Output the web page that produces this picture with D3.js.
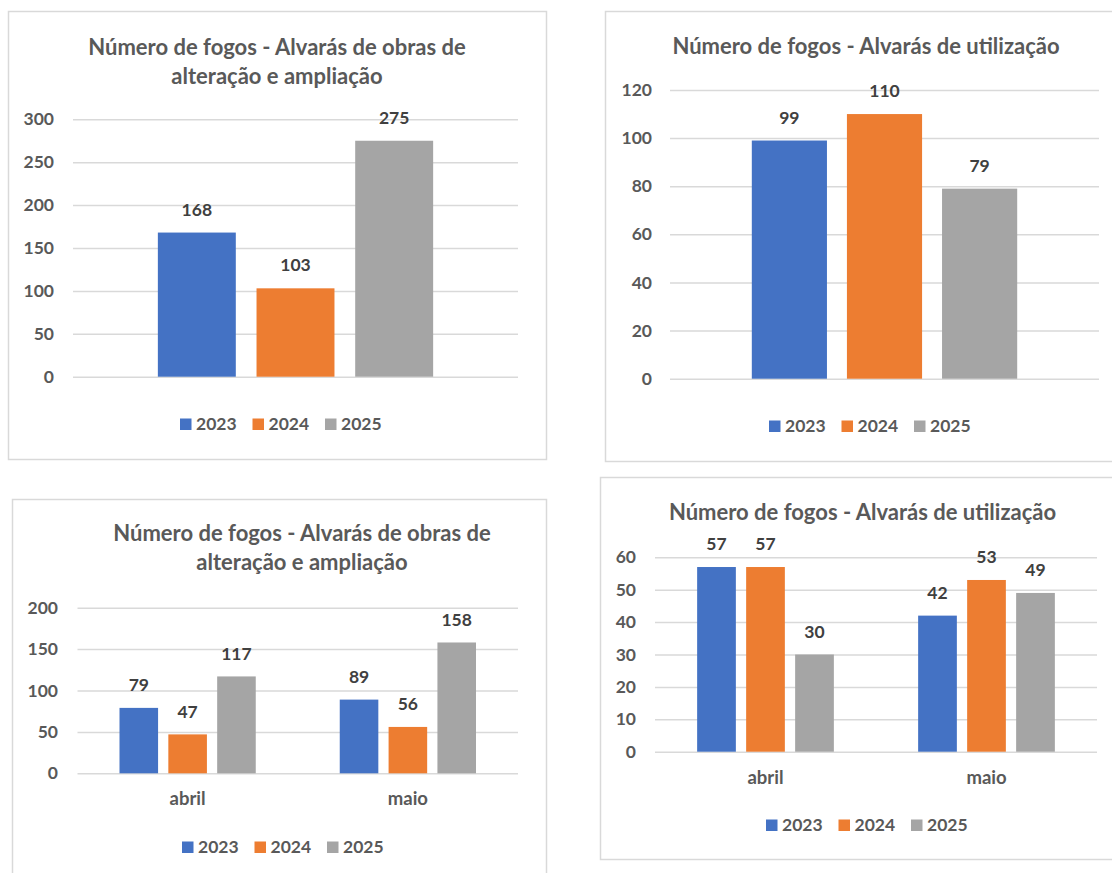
<!DOCTYPE html>
<html>
<head>
<meta charset="utf-8">
<script src="https://cdn.jsdelivr.net/npm/d3@7"></script>
<style>
  html, body { margin: 0; padding: 0; background: #fff; }
  svg { display: block; font-family: Lato, "Open Sans", sans-serif; }
</style>
</head>
<body>
<div id="chart"></div>
<script>
// ── Data ──────────────────────────────────────────────────────────────────
const years  = ["2023", "2024", "2025"];
const months = ["abril", "maio"];

const obrasTotal = [168, 103, 275];
const utilTotal  = [99, 110, 79];

const obrasAbril = [79, 47, 117];
const obrasMaio  = [89, 56, 158];
const utilAbril  = [57, 57, 30];
const utilMaio   = [42, 53, 49];

const ticksObrasTotal = [0, 50, 100, 150, 200, 250, 300];
const ticksUtilTotal  = [0, 20, 40, 60, 80, 100, 120];
const ticksObrasMes   = [0, 50, 100, 150, 200];
const ticksUtilMes    = [0, 10, 20, 30, 40, 50, 60];

const titleObras = ["Número de fogos - Alvarás de obras de", "alteração e ampliação"];
const titleUtil  = ["Número de fogos - Alvarás de utilização"];

const PALETTE = { "2023": "#4472C4", "2024": "#ED7D31", "2025": "#A5A5A5" };

// ── Helpers ───────────────────────────────────────────────────────────────
const TXT   = "#595959";
const LABEL = "#404040";
const GRID  = "#D9D9D9";
const NUM_SIZE = 17.5;

const svg = d3.select("#chart").append("svg")
  .attr("width", 1112)
  .attr("height", 873);

function panel(o) {
  const g = svg.append("g");

  // frame
  g.append("rect")
    .attr("x", o.box[0] + 0.5).attr("y", o.box[1] + 0.5)
    .attr("width", o.box[2]).attr("height", o.box[3])
    .attr("fill", "#fff").attr("stroke", GRID).attr("stroke-width", 1.5);

  // title
  o.title.forEach((line, i) => {
    g.append("text")
      .attr("x", o.titleX).attr("y", o.titleY + i * 29)
      .attr("dy", "0.35em")
      .attr("text-anchor", "middle")
      .attr("font-size", 22).attr("font-weight", 700)
      .attr("fill", TXT)
      .text(line);
  });

  // scales
  const y = d3.scaleLinear()
    .domain([0, d3.max(o.ticks)])
    .range(o.yRange);

  const x0 = d3.scaleBand()
    .domain(o.cats)
    .range(o.xRange)
    .padding(0);

  const x1 = d3.scaleBand()
    .domain(years)
    .range([0, x0.bandwidth()])
    .paddingInner(0.21)
    .paddingOuter(0.86);

  // grid
  g.append("g")
    .attr("transform", `translate(${o.xRange[0]},0)`)
    .call(d3.axisLeft(y).tickValues(o.ticks)
      .tickSize(-(o.xRange[1] - o.xRange[0])).tickFormat(""))
    .call(a => a.select(".domain").remove())
    .call(a => a.selectAll("line").attr("stroke", GRID).attr("stroke-width", 1.5));

  // y tick labels
  g.append("g")
    .attr("transform", `translate(${o.labelX},0)`)
    .call(d3.axisLeft(y).tickValues(o.ticks).tickSize(0).tickPadding(0))
    .call(a => a.select(".domain").remove())
    .call(a => a.selectAll("text")
      .attr("font-family", "Lato, sans-serif")
      .attr("font-size", NUM_SIZE).attr("font-weight", 700)
      .attr("fill", TXT));

  // bars + value labels
  const rows = o.cats.map((c, i) => ({ cat: c, vals: o.values[i] }));
  rows.forEach(r => {
    const gg = g.append("g").attr("transform", `translate(${x0(r.cat)},0)`);
    years.forEach((yr, j) => {
      const v = r.vals[j];
      gg.append("rect")
        .attr("x", x1(yr)).attr("width", x1.bandwidth())
        .attr("y", y(v)).attr("height", y(0) - y(v))
        .attr("fill", PALETTE[yr]);
      gg.append("text")
        .attr("x", x1(yr) + x1.bandwidth() / 2)
        .attr("y", y(v) - 23)
        .attr("dy", "0.35em")
        .attr("text-anchor", "middle")
        .attr("font-size", NUM_SIZE).attr("font-weight", 700)
        .attr("fill", LABEL)
        .text(v);
    });
  });

  // category labels
  if (o.catLabelY) {
    o.cats.forEach(c => {
      g.append("text")
        .attr("x", x0(c) + x0.bandwidth() / 2).attr("y", o.catLabelY)
        .attr("dy", "0.35em")
        .attr("text-anchor", "middle")
        .attr("font-size", 18.5).attr("font-weight", 700)
        .attr("fill", TXT)
        .text(c);
    });
  }

  // legend
  years.forEach((yr, i) => {
    const lx = o.legendX + i * 72.5;
    g.append("rect")
      .attr("x", lx).attr("y", o.legendY - 5.5)
      .attr("width", 11.5).attr("height", 11.5)
      .attr("fill", PALETTE[yr]);
    g.append("text")
      .attr("x", lx + 16).attr("y", o.legendY)
      .attr("dy", "0.35em")
      .attr("font-size", NUM_SIZE).attr("font-weight", 700)
      .attr("fill", TXT)
      .text(yr);
  });
}

// ── Panels ────────────────────────────────────────────────────────────────
panel({
  box: [8, 11, 538, 448],
  title: titleObras, titleX: 277, titleY: 47,
  cats: [""], values: [obrasTotal],
  ticks: ticksObrasTotal,
  xRange: [73, 518], yRange: [376.7, 119.3], labelX: 54,
  legendX: 180, legendY: 424
});

panel({
  box: [605, 11, 530, 450],
  title: titleUtil, titleX: 866, titleY: 46,
  cats: [""], values: [utilTotal],
  ticks: ticksUtilTotal,
  xRange: [670, 1099], yRange: [378.7, 90], labelX: 652,
  legendX: 769, legendY: 426
});

panel({
  box: [12, 499, 534, 400],
  title: titleObras, titleX: 302, titleY: 533,
  cats: months, values: [obrasAbril, obrasMaio],
  ticks: ticksObrasMes,
  xRange: [77.5, 518], yRange: [773.3, 607.7], labelX: 58,
  catLabelY: 799,
  legendX: 182, legendY: 847
});

panel({
  box: [600, 477, 530, 382],
  title: titleUtil, titleX: 862.5, titleY: 512.7,
  cats: months, values: [utilAbril, utilMaio],
  ticks: ticksUtilMes,
  xRange: [655, 1097], yRange: [751.7, 557.3], labelX: 636,
  catLabelY: 778,
  legendX: 766, legendY: 825
});
</script>
</body>
</html>
